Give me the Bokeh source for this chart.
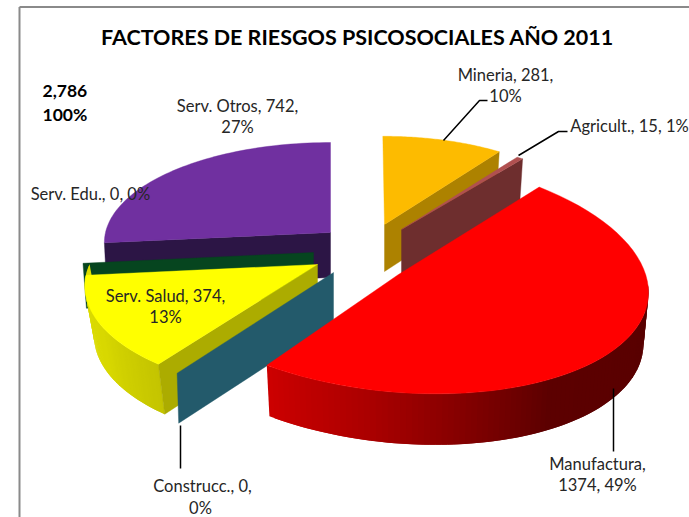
import math
from bokeh.plotting import figure
from bokeh.embed import file_html
from bokeh.resources import INLINE
from bokeh.core.properties import value

# ---- data
title_text = "FACTORES DE RIESGOS PSICOSOCIALES AÑO 2011"
names = ["Mineria", "Agricult.", "Manufactura", "Construcc.", "Serv. Salud", "Serv.  Edu.", "Serv. Otros"]
values = [281, 15, 1374, 0, 374, 0, 742]
top_colors = ["#fdbb00", "#b05050", "#ff0000", "#235a6b", "#ffff00", "#06451f", "#7030a0"]
side_colors = ["#ad8200", "#6e2e2e", "#c80000", "#235a6b", "#acac00", "#06451f", "#2c1545"]

total = sum(values)
pcts = [round(100 * v / total) for v in values]
labels = {n: (n, v, q) for n, v, q in zip(names, values, pcts)}

# ---- 3-D pie layout (pixels of the picture):
# apex x, y, radius x, radius y, perspective, depth, angle shift, tilt, lower-face shrink
GEOM = [
    (384, 224, 212, 97, .10, 47, -.5, 0, .975),
    (401, 229, 211, 97, .10, 47, 0, 0, .975),
    (398, 274, 250, 118, .0, 51, -4, 18, .98),
    (333, 272, 224, 104, .20, 50, 0, 0, .99),
    (317, 264, 228, 103, .20, 50, 0, 0, .96),
    (313, 252, 227, 103, .20, 45, 0, 0, .985),
    (330, 232, 225, 99, .10, 45, 0, 0, .99),
]

edges = []
c = 0.0
for v in values:
    edges.append((c, c + 360.0 * v / total))
    c += 360.0 * v / total


def pt(i, t):
    ax, ay, R, Q, k, D, dt, sh, _ = GEOM[i]
    r = math.radians(t + dt)
    u, w = math.sin(r), -math.cos(r)
    s = 1 / (1 - k * w)
    return ax + R * u * s, ay + Q * w * s + sh * u


def low(i, t):
    ax, D, shrink = GEOM[i][0], GEOM[i][5], GEOM[i][8]
    x, y = pt(i, t)
    return ax + (x - ax) * shrink, y + D


def arc(i, t0, t1, n=60):
    return [pt(i, t0 + (t1 - t0) * j / n) for j in range(n + 1)]


p = figure(width=689, height=517, x_range=(0, 689), y_range=(517, 0),
           output_backend="svg", toolbar_location=None, min_border=0,
           outline_line_color=None, background_fill_color="white",
           border_fill_color="white")
p.axis.visible = False
p.grid.visible = False


def poly(pts, color, lw=0.4):
    p.patch([a for a, _ in pts], [b for _, b in pts], fill_color=color,
            line_color=color, line_width=lw)


def top(i):
    t0, t1 = edges[i]
    ax, ay = GEOM[i][:2]
    poly([(ax, ay)] + arc(i, t0, t1), top_colors[i])


def radial(i, t):
    ax, ay, D = GEOM[i][0], GEOM[i][1], GEOM[i][5]
    r = pt(i, t)
    b = low(i, t)
    poly([(ax, ay), r, b, (ax, ay + D)], side_colors[i])


def lerp(stops, f):
    for (f0, c0), (f1, c1) in zip(stops, stops[1:]):
        if f <= f1:
            g = (f - f0) / (f1 - f0)
            return "#%02x%02x%02x" % tuple(round(a + (b - a) * g) for a, b in zip(c0, c1))
    return "#%02x%02x%02x" % stops[-1][1]


def rim(i, t0, t1, stops, n=70):
    # strips drawn so that each one overlaps the previous, which hides the seams
    for j in range(n):
        a = t0 + (t1 - t0) * j / n
        b = t0 + (t1 - t0) * min(j + 2, n) / n
        poly([pt(i, a), pt(i, b), low(i, b), low(i, a)], lerp(stops, (j + .5) / n), 0)


M, A, F, C, S, E, O = range(7)

# back to front
radial(O, edges[O][0])
top(O)
radial(E, edges[E][0])
radial(M, edges[M][1])
top(M)
radial(A, edges[A][1])
top(A)
rim(S, edges[S][1] + 6, edges[S][0], [(0, (222, 222, 0)), (.6, (216, 216, 0)), (1, (196, 196, 0))])
radial(S, edges[S][0])
top(S)
radial(C, edges[C][0])
rim(F, edges[F][1], 90, [(0, (205, 0, 0)), (.2, (170, 0, 0)), (.55, (92, 0, 0)), (1, (88, 0, 0))], 90)
top(F)

# frame
p.line([19, 19], [517, 6.5], line_color="#8a8a8a", line_width=2)
p.line([19, 689], [6.5, 6.5], line_color="#8a8a8a", line_width=2)

# leader lines
for xs, ys in [([443, 479, 487], [140, 100, 100]), ([518, 558, 567], [155, 131, 131]),
               ([180, 180], [425, 468]), ([613, 613], [388, 451])]:
    p.line(xs, ys, line_color="black", line_width=1.5)

FONT = value("Lato")


def txt(x, y, s, size="16.5px", style="normal", color="#262626", align="center"):
    p.text([x], [y], text=[s], text_font=FONT, text_font_size=size, text_font_style=style,
           text_color=color, text_align=align, text_baseline="middle")


txt(357, 36, title_text, "21.5px", "bold", "black")
txt(42, 90, f"{total:,}", "17.5px", "bold", "black", "left")
txt(42, 114, "100%", "17.5px", "bold", "black", "left")

n, v, q = labels["Mineria"]
txt(505, 74, f"{n}, {v},"); txt(505, 95, f"{q}%")
n, v, q = labels["Agricult."]
txt(629, 125, f"{n}, {v}, {q}%")
n, v, q = labels["Serv. Otros"]
txt(237, 105, f"{n}, {v},"); txt(237, 126, f"{q}%")
n, v, q = labels["Serv.  Edu."]
txt(92, 193, f"{n}, {v}, {q}%")
n, v, q = labels["Serv. Salud"]
txt(165, 295, f"{n}, {v},"); txt(165, 316, f"{q}%")
n, v, q = labels["Construcc."]
txt(202, 485, f"{n}, {v},"); txt(200, 507, f"{q}%")
n, v, q = labels["Manufactura"]
txt(597, 463, f"{n},"); txt(597, 484, f"{v}, {q}%")

open("out.html", "w").write(file_html(p, INLINE))
